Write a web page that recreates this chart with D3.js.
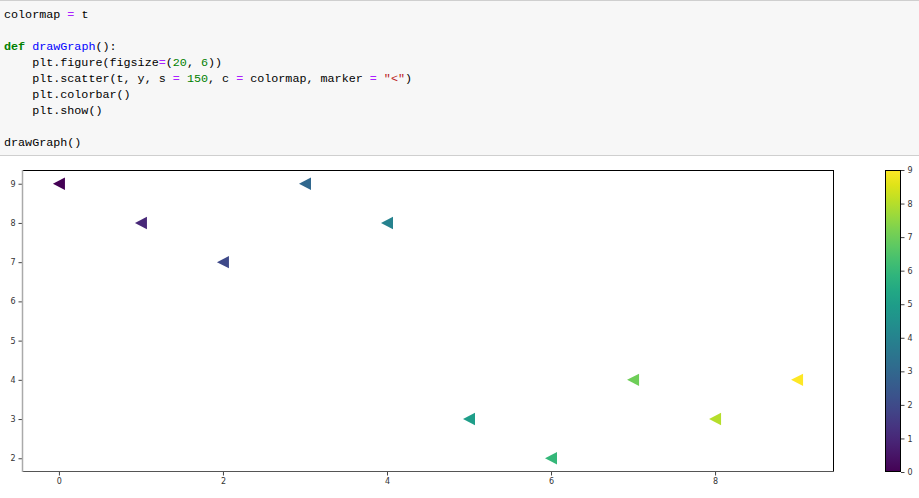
<!DOCTYPE html>
<html><head><meta charset="utf-8">
<script src="https://cdn.jsdelivr.net/npm/d3@7"></script>
<style>
html,body{margin:0;padding:0;background:#fff;}
svg{display:block;}
</style></head>
<body>
<svg id="c" width="919" height="498"></svg>
<script>
const t = [0,1,2,3,4,5,6,7,8,9];
const y = [9,8,7,9,8,3,2,4,3,4];
const colormap = t;
const xTicks = [0,2,4,6,8];
const yTicks = [2,3,4,5,6,7,8,9];
const cbTicks = [0,1,2,3,4,5,6,7,8,9];
const codeLines = [
  [["colormap ","n"],["=","o"],[" t","n"]],
  [],
  [["def","k"],[" ","n"],["drawGraph","f"],["():","n"]],
  [["    plt.figure(figsize","n"],["=","o"],["(","n"],["20","m"],[", ","n"],["6","m"],["))","n"]],
  [["    plt.scatter(t, y, s ","n"],["=","o"],[" ","n"],["150","m"],[", c ","n"],["=","o"],[" colormap, marker ","n"],["=","o"],[" ","n"],["\"<\"","s"],[")","n"]],
  [["    plt.colorbar()","n"]],
  [["    plt.show()","n"]],
  [],
  [["drawGraph()","n"]]
];
const codeColors = {n:"#000",o:"#aa22ff",k:"#008000",f:"#0000ff",m:"#008000",s:"#ba2121"};

const svg = d3.select("#c");
svg.append("rect").attr("width",919).attr("height",498).attr("fill","#fff");

// code cell
svg.append("rect").attr("x",0).attr("y",0).attr("width",919).attr("height",155).attr("fill","#f7f7f7");
svg.append("line").attr("x1",0).attr("x2",919).attr("y1",0.5).attr("y2",0.5).attr("stroke","#cfcfcf");
svg.append("line").attr("x1",0).attr("x2",919).attr("y1",155.5).attr("y2",155.5).attr("stroke","#cfcfcf");
const code = svg.append("g").attr("font-family","'Liberation Mono','DejaVu Sans Mono',monospace").attr("font-size","11.72px");
codeLines.forEach((segs,i)=>{
  const tx = code.append("text").attr("x",4).attr("y",18+i*16).attr("xml:space","preserve").style("white-space","pre");
  segs.forEach(([s,c])=>{
    tx.append("tspan").text(s).attr("fill",codeColors[c]).attr("font-weight",c==="k"?"bold":"normal");
  });
});

// main plot
const L=22, R=834, T=170, B=472;
const x = d3.scaleLinear().domain([-0.45,9.45]).range([L,R]);
const yS = d3.scaleLinear().domain([1.65,9.35]).range([B,T]);
const col = d3.scaleSequential(d3.interpolateViridis).domain([0,9]);

const xa = svg.append("g").attr("transform",`translate(0,${B})`)
  .call(d3.axisBottom(x).tickValues(xTicks).tickSize(3.5).tickPadding(3).tickFormat(d3.format("d")));
const ya = svg.append("g").attr("transform",`translate(${L},0)`)
  .call(d3.axisLeft(yS).tickValues(yTicks).tickSize(3.5).tickPadding(3).tickFormat(d3.format("d")));
[xa,ya].forEach(a=>{
  a.select(".domain").remove();
  a.selectAll("line").attr("stroke","#444");
  a.selectAll("text").attr("fill","#333").attr("font-family","'DejaVu Sans',sans-serif").attr("font-size","8px");
});

// spines
svg.append("line").attr("x1",L).attr("x2",R).attr("y1",T+0.5).attr("y2",T+0.5).attr("stroke","#000");
svg.append("line").attr("x1",R-0.5).attr("x2",R-0.5).attr("y1",T).attr("y2",B).attr("stroke","#000");
svg.append("line").attr("x1",L).attr("x2",R).attr("y1",B-0.5).attr("y2",B-0.5).attr("stroke","#555");
svg.append("line").attr("x1",L+0.5).attr("x2",L+0.5).attr("y1",T).attr("y2",B).attr("stroke","#aaa").attr("stroke-width",1.5);

const tri = "M-6,0L6,-6.2L6,6.2Z";
svg.append("g").selectAll("path").data(t).join("path")
  .attr("d",tri)
  .attr("transform",(d,i)=>`translate(${x(d)},${yS(y[i])})`)
  .attr("fill",(d,i)=>col(colormap[i]));

// colorbar
const cbL=885, cbR=901, cbT=170, cbB=472;
const defs = svg.append("defs");
const grad = defs.append("linearGradient").attr("id","vir").attr("x1",0).attr("x2",0).attr("y1",1).attr("y2",0);
d3.range(0,1.0001,0.05).forEach(s=>grad.append("stop").attr("offset",s).attr("stop-color",d3.interpolateViridis(s)));
svg.append("rect").attr("x",cbL).attr("y",cbT).attr("width",cbR-cbL).attr("height",cbB-cbT).attr("fill","url(#vir)");
svg.append("rect").attr("x",cbL+0.5).attr("y",cbT+0.5).attr("width",cbR-cbL-1).attr("height",cbB-cbT-1)
  .attr("fill","none").attr("stroke","#000");
const cbS = d3.scaleLinear().domain([0,9]).range([cbB,cbT]);
const cba = svg.append("g").attr("transform",`translate(${cbR},0)`)
  .call(d3.axisRight(cbS).tickValues(cbTicks).tickSize(3.5).tickPadding(3).tickFormat(d3.format("d")));
cba.select(".domain").remove();
cba.selectAll("line").attr("stroke","#444");
cba.selectAll("text").attr("fill","#333").attr("font-family","'DejaVu Sans',sans-serif").attr("font-size","8px");
</script>
</body></html>
